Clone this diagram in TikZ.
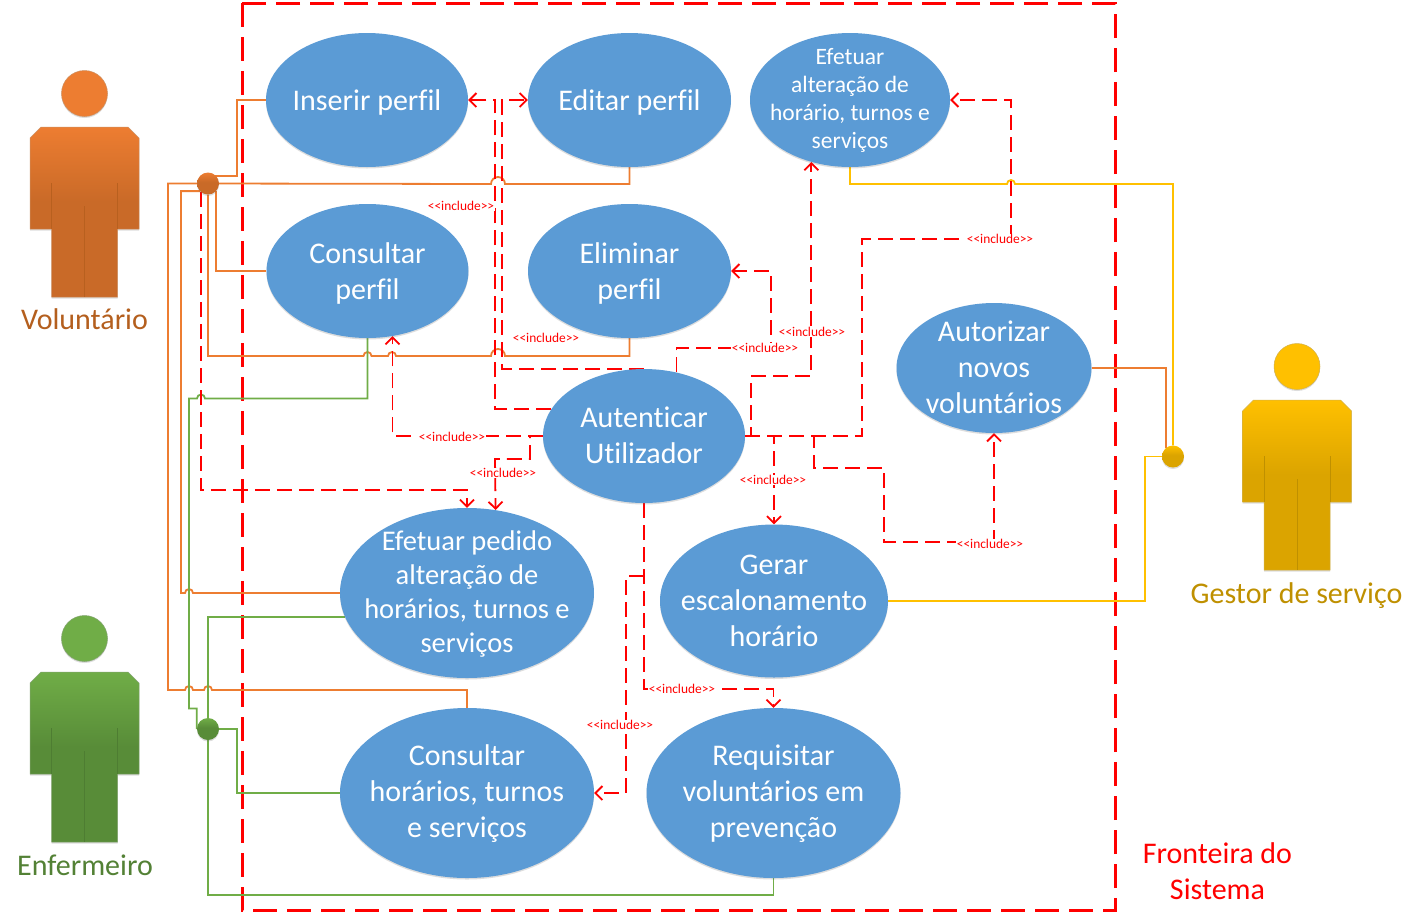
\documentclass[tikz,border=0pt]{standalone}
\usepackage{fontspec}
\setmainfont{Carlito}[Ligatures=NoCommon]
\usetikzlibrary{shapes.geometric,arrows.meta,backgrounds,shadows}
\definecolor{ucblue}{HTML}{5B9BD5}
\definecolor{orL}{HTML}{ED7D31}\definecolor{orD}{HTML}{C96A28}\definecolor{orE}{HTML}{B8601F}
\definecolor{grL}{HTML}{70AD47}\definecolor{grD}{HTML}{588C38}\definecolor{grE}{HTML}{4E7D32}
\definecolor{goL}{HTML}{FFC000}\definecolor{goD}{HTML}{DBA400}\definecolor{goE}{HTML}{BF9000}
\definecolor{orT}{HTML}{B45F1E}\definecolor{grT}{HTML}{538135}
\pgfdeclareverticalshading{orgrad}{100bp}{color(0bp)=(orD);color(53bp)=(orD);color(75bp)=(orL);color(100bp)=(orL)}
\pgfdeclareverticalshading{grgrad}{100bp}{color(0bp)=(grD);color(53bp)=(grD);color(75bp)=(grL);color(100bp)=(grL)}
\pgfdeclareverticalshading{gograd}{100bp}{color(0bp)=(goD);color(53bp)=(goD);color(75bp)=(goL);color(100bp)=(goL)}
\tikzset{
  softshadow/.style={drop shadow={shadow xshift=0pt,shadow yshift=-1.5pt,opacity=.22,fill=black!60}},
  uc/.style n args={4}{ellipse,fill=ucblue,inner sep=0pt,minimum width=#1,minimum height=#2,softshadow,
     label={[uctext,yshift=#4]center:{#3}}},
  ucbare/.style n args={2}{ellipse,fill=ucblue,inner sep=0pt,minimum width=#1,minimum height=#2,softshadow},
  uctext/.style={text=white,align=center,font=\fontsize{30}{36}\selectfont,inner sep=0pt},
  ucsmall/.style={text=white,align=center,font=\fontsize{23.5}{28}\selectfont,inner sep=0pt},
  dotnode/.style={circle,shade,shading=#1,minimum size=22pt,inner sep=0pt,softshadow},
  orline/.style={draw=orL,line width=1.8pt,line join=miter},
  grline/.style={draw=grL,line width=1.8pt},
  goline/.style={draw=goL,line width=1.8pt},
  incl/.style={draw=red,line width=1.8pt,dash pattern=on 15pt off 7pt},
  inclarrow/.style={incl,-{Straight Barb[length=7pt,width=14pt,line width=1.8pt]}},
  incllabel/.style={fill=white,text=red,inner sep=0.5pt,font=\fontsize{13.4}{14}\selectfont},
  actortext/.style={font=\fontsize{30}{36}\selectfont,align=center,inner sep=0pt},
  boundary/.style={draw=red,line width=3pt,dash pattern=on 24pt off 10pt}
}
\newcommand\inclt{<{}<include>{}>}
\newcommand\personfig[5]{% cx, top, fill, shading, edge
  \fill[#3,softshadow,draw=#5!70!white,line width=.5pt] (#1,#2-33.5) circle[radius=23pt];
  \shade[shading=#4,draw=#5!70!white,line width=.5pt,softshadow]
    (#1-43.5,#2) -- (#1+43.5,#2) -- (#1+54.5,#2+11) -- (#1+54.5,#2+102) -- (#1+33,#2+102)
    -- (#1+33,#2+170) -- (#1-33,#2+170) -- (#1-33,#2+102) -- (#1-54.5,#2+102) -- (#1-54.5,#2+11) -- cycle;
  \draw[#5,line width=.5pt] (#1-33,#2+56) -- (#1-33,#2+102) (#1+33,#2+56) -- (#1+33,#2+102) (#1,#2+79) -- (#1,#2+170);
}
\begin{document}
\begin{tikzpicture}[x=1pt,y=-1pt]
\useasboundingbox (0,0) rectangle (1419,922);

\personfig{84.5}{127}{orL}{orgrad}{orE}
\personfig{84.5}{672}{grL}{grgrad}{grE}
\personfig{1297}{400}{goL}{gograd}{goE}
\node[actortext,text=orT] (lblV) at (84.5,319.5) {Voluntário};
\node[actortext,text=grT] (lblE) at (85,865.5) {Enfermeiro};
\node[actortext,text=goE] (lblG) at (1296.5,596) {Gestor de serviço};
\node[actortext,text=red] (lblF) at (1217.5,871) {Fronteira do\\Sistema};

\node[dotnode=orgrad] (dotV) at (208,183.5) {};
\node[dotnode=grgrad] (dotE) at (208,729) {};
\node[dotnode=gograd] (dotG) at (1173,456.5) {};

\node[uc={202pt}{134pt}{Inserir perfil}{-2pt}] (ins) at (367,100) {};
\node[uc={203pt}{134pt}{Editar perfil}{-2pt}] (edi) at (629.5,100) {};
\node[ucbare={200pt}{134pt},label={[ucsmall]center:{Efetuar\\alteração de\\horário, turnos e\\serviços}}] (efa) at (850,100) {};
\node[uc={202pt}{134pt}{Consultar\\perfil}{-2pt}] (con) at (367.5,271) {};
\node[uc={203pt}{134pt}{Eliminar\\perfil}{-2pt}] (eli) at (629.5,271) {};
\node[uc={195pt}{130pt}{Autorizar\\novos\\voluntários}{1pt}] (nov) at (994,368) {};
\node[uc={202pt}{134pt}{Autenticar\\Utilizador}{1pt}] (aut) at (644,436) {};
\node[ucbare={254pt}{170pt},label={[uctext,yshift=-1pt,font=\fontsize{28.5}{34}\selectfont]center:{Efetuar pedido\\alteração de\\horários, turnos e\\serviços}}] (efp) at (467,593) {};
\node[uc={228pt}{153pt}{Gerar\\escalonamento\\horário}{0pt}] (ger) at (774,601) {};
\node[uc={254pt}{170pt}{Consultar\\horários, turnos\\e serviços}{-1pt}] (cho) at (467,793) {};
\node[uc={254pt}{170pt}{Requisitar\\voluntários em\\prevenção}{-1pt}] (req) at (773.5,793) {};

\node[incllabel] (i1) at (461,206) {\inclt};
\node[incllabel] (i2) at (546,338) {\inclt};
\node[incllabel] (i3) at (452,437) {\inclt};
\node[incllabel] (i4) at (503,473) {\inclt};
\node[incllabel] (i5) at (765,348) {\inclt};
\node[incllabel] (i6) at (812,332) {\inclt};
\node[incllabel] (i7) at (1000,239) {\inclt};
\node[incllabel] (i8) at (773,480) {\inclt};
\node[incllabel] (i9) at (990,544) {\inclt};
\node[incllabel] (i10) at (682,689) {\inclt};
\node[incllabel] (i11) at (620,725) {\inclt};

\begin{pgfonlayer}{background}
\fill[white] (0,0) rectangle (1419,922);
\draw[boundary] (242,3) rectangle (1115,910);

% orange
\draw[orline] (ins.west) -| (237,176) -- (dotV.center |- 0,176);
\draw[orline] (con.west) -| (dotV.-45);
\draw[orline] (edi.south) |- (505,184) arc[start angle=0,end angle=180,radius=7pt] -- (dotV.center);
\draw[orline] (cho.north) |- (212,690) arc[start angle=0,end angle=180,radius=4pt] -- (193,690) arc[start angle=0,end angle=180,radius=4pt] -- (168,690) |- (dotV.center);
\draw[orline] (efp.west) -- (193,593) arc[start angle=0,end angle=180,radius=4pt] -- (181,593) |- (dotV.223);
\draw[orline] (eli.south) |- (505,356) arc[start angle=0,end angle=180,radius=7pt] -- (396,356) arc[start angle=0,end angle=180,radius=4pt] -- (371.5,356) arc[start angle=0,end angle=180,radius=4pt] -- (dotV.center |- 0,356) -- (dotV.south);
\draw[orline] (nov.east) -| (dotG.130);

% green
\draw[grline] (con.south) |- (205,398.5) arc[start angle=0,end angle=180,radius=4pt] -- (189,398.5) |- (dotE.west |- 0,708.5) -- (dotE.west);
\draw[grline] (efp.191) -| (dotE.north);
\draw[grline] (cho.west) -| (237,729) -- (dotE.east);
\draw[grline] (req.south) |- (dotE.center |- 0,895) -- (dotE.south);

% gold
\draw[goline] (dotG.north) |- (1015,184) arc[start angle=0,end angle=180,radius=4pt] -| (efa.south);
\draw[goline] (ger.east) -| (1145,456.5) -- (dotG.west);

% include connectors
\draw[inclarrow] (aut.164) -| (495,100) -- (ins.east);
\draw[inclarrow] (aut.north) -| (502,100) -- (edi.west);
\draw[inclarrow] (aut.west) -| (con.291);
\draw[inclarrow] (aut.west) -- (530,436) |- (495,459) -- (efp.71);
\draw[inclarrow] (dotV.230) |- (467,490) -- (efp.north);
\draw[inclarrow] (aut.63) |- (771,348) |- (eli.east);
\draw[inclarrow] (aut.east) -| (751,376) -| (efa.238);
\draw[inclarrow] (aut.east) -| (862,239) -| (1011,100) -- (efa.east);
\draw[inclarrow] (aut.east) -| (ger.north);
\draw[inclarrow] (aut.east) -| (814,468) -| (884,542) -| (nov.south);
\draw[inclarrow] (aut.south) |- (700,689) -| (req.north);
\draw[inclarrow] (aut.south |- 0,576) -| (626,793) -- (cho.east);
\end{pgfonlayer}
\end{tikzpicture}
\end{document}
